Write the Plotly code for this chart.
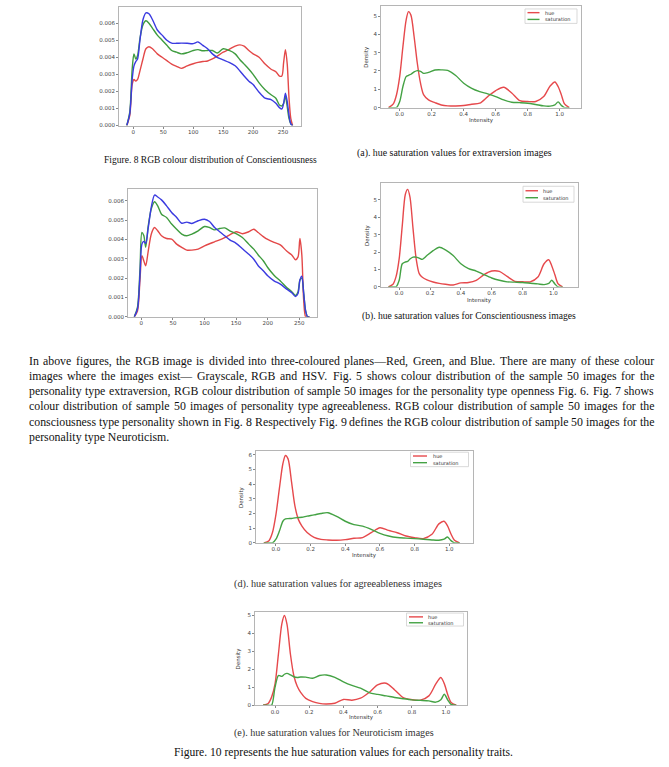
import plotly.graph_objects as go

W, H = 669, 767

# ---------------- data ----------------
rgb_x = [-11, -6, -2, 1, 4, 7, 11, 16, 21, 26, 32, 40, 48, 56, 64, 72, 80, 90, 100, 108, 116,
         124, 132, 140, 150, 160, 170, 178, 185, 193, 200, 210, 220, 230, 238, 244, 248, 251,
         254, 257, 260, 263, 266]

fig8_blue = [0, 0.0007, 0.0027, 0.0035, 0.00375, 0.0039, 0.005, 0.0062, 0.0066, 0.00655, 0.0062,
             0.0056, 0.0053, 0.005, 0.00483, 0.00482, 0.00483, 0.00482, 0.0048, 0.0049, 0.0047,
             0.0045, 0.0042, 0.004, 0.00385, 0.0037, 0.0035, 0.0032, 0.0029, 0.0026, 0.0024,
             0.00195, 0.0016, 0.00152, 0.0013, 0.00105, 0.00097, 0.0013, 0.0019, 0.0014, 0.0006,
             0.0001, 0]
fig8_green = [0, 0.0008, 0.0033, 0.0042, 0.0039, 0.0041, 0.0051, 0.0059, 0.00614, 0.006, 0.0057,
              0.0053, 0.005, 0.0047, 0.0044, 0.0043, 0.0042, 0.00427, 0.0044, 0.00445, 0.00438,
              0.0044, 0.0044, 0.00425, 0.0045, 0.0044, 0.0042, 0.00386, 0.0036, 0.0033, 0.003,
              0.0025, 0.0021, 0.0018, 0.0016, 0.0012, 0.00115, 0.0013, 0.0017, 0.0011, 0.0004,
              0.0001, 0]
fig8_red = [0, 0.0006, 0.0024, 0.0027, 0.0026, 0.0027, 0.0032, 0.0039, 0.0045, 0.00462, 0.0045,
            0.0042, 0.004, 0.0038, 0.0036, 0.00347, 0.00335, 0.0035, 0.00362, 0.0037, 0.00375,
            0.00378, 0.0039, 0.00407, 0.0043, 0.00447, 0.00465, 0.00473, 0.00465, 0.0044, 0.0042,
            0.004, 0.0036, 0.0033, 0.00315, 0.0029, 0.0029, 0.0037, 0.00445, 0.0036, 0.0016,
            0.0004, 0]

fig9_blue = [0, 0.0004, 0.0022, 0.00376, 0.0039, 0.0038, 0.0046, 0.0057, 0.0063, 0.0062, 0.00605,
             0.00574, 0.0054, 0.00514, 0.00484, 0.0049, 0.00483, 0.00497, 0.00505, 0.00493,
             0.00462, 0.0044, 0.00419, 0.00398, 0.0038, 0.00352, 0.00324, 0.00298, 0.00264,
             0.00238, 0.00212, 0.00186, 0.00169, 0.00143, 0.00125, 0.00105, 0.0012, 0.0019,
             0.0021, 0.0012, 0.0003, 0, 0]
fig9_green = [0, 0.0005, 0.0025, 0.00436, 0.0042, 0.0036, 0.0047, 0.0056, 0.00595, 0.00574,
              0.00531, 0.00514, 0.0048, 0.00453, 0.00428, 0.00419, 0.00428, 0.00445, 0.00467,
              0.00462, 0.0045, 0.00457, 0.0046, 0.00445, 0.0043, 0.0041, 0.00376, 0.0035, 0.0032,
              0.0029, 0.00255, 0.00215, 0.00185, 0.00152, 0.0013, 0.0011, 0.0013, 0.0019, 0.002,
              0.0012, 0.0003, 0, 0]
fig9_red = [0, 0.0003, 0.00195, 0.00316, 0.0029, 0.00264, 0.0034, 0.0043, 0.00462, 0.00445,
            0.00419, 0.00405, 0.00402, 0.00376, 0.00359, 0.00345, 0.00345, 0.0035, 0.00367,
            0.00378, 0.00388, 0.00398, 0.0041, 0.00424, 0.0044, 0.0043, 0.0044, 0.00453, 0.00436,
            0.00415, 0.004, 0.00385, 0.00372, 0.0034, 0.0032, 0.00295, 0.0031, 0.00405, 0.0032,
            0.0008, 0, 0, 0]

hs_x = [-0.07, -0.04, -0.02, 0.0, 0.02, 0.04, 0.055, 0.07, 0.09, 0.11, 0.13, 0.15, 0.18, 0.22,
        0.26, 0.30, 0.35, 0.40, 0.45, 0.50, 0.55, 0.60, 0.65, 0.70, 0.75, 0.80, 0.85, 0.90, 0.94,
        0.97, 0.99, 1.01, 1.03, 1.06]

a_hue = [0, 0.2, 0.7, 1.7, 3.33, 4.78, 5.24, 5.05, 3.87, 2.42, 1.33, 0.69, 0.42, 0.27, 0.14, 0.09,
         0.09, 0.11, 0.18, 0.24, 0.6, 0.93, 1.11, 0.8, 0.38, 0.33, 0.33, 0.6, 1.18, 1.4, 1.15, 0.7,
         0.2, 0]
a_sat = [0, 0, 0, 0.33, 1.15, 1.69, 1.76, 1.82, 1.95, 2.02, 1.98, 1.87, 1.92, 2.05, 2.06, 2.03,
         1.75, 1.33, 1.05, 0.87, 0.75, 0.6, 0.42, 0.29, 0.27, 0.24, 0.17, 0.09, 0.08, 0.15, 0.31,
         0.12, 0, 0]

b_hue = [0, 0.15, 0.6, 1.62, 3.52, 5.32, 5.6, 5.15, 3.33, 1.62, 0.76, 0.55, 0.4, 0.28, 0.2, 0.15,
         0.11, 0.23, 0.25, 0.38, 0.7, 0.91, 0.89, 0.6, 0.32, 0.29, 0.29, 0.57, 1.33, 1.56, 1.2,
         0.7, 0.19, 0]
b_sat = [0, 0, 0, 0.38, 1.33, 1.43, 1.46, 1.6, 1.71, 1.71, 1.65, 1.58, 1.8, 2.08, 2.28, 2.13, 1.8,
         1.33, 1.05, 0.91, 0.7, 0.51, 0.38, 0.29, 0.27, 0.25, 0.21, 0.17, 0.13, 0.2, 0.38, 0.17,
         0, 0]

d_hue = [0, 0.15, 0.7, 1.92, 3.7, 5.38, 5.94, 5.71, 4.15, 2.48, 1.58, 1.14, 0.7, 0.38, 0.24, 0.2,
         0.18, 0.22, 0.31, 0.36, 0.69, 1.03, 0.85, 0.69, 0.47, 0.36, 0.29, 0.58, 1.29, 1.47, 1.15,
         0.6, 0.18, 0]
d_sat = [0, 0, 0, 0.25, 0.8, 1.47, 1.63, 1.65, 1.66, 1.7, 1.72, 1.74, 1.82, 1.9, 2.0, 2.05, 1.8,
         1.47, 1.24, 1.14, 0.92, 0.65, 0.47, 0.36, 0.32, 0.29, 0.25, 0.2, 0.18, 0.25, 0.4, 0.15,
         0, 0]

e_hue = [0, 0.1, 0.45, 1.17, 2.84, 4.52, 4.98, 4.5, 2.85, 1.65, 1.05, 0.71, 0.38, 0.2, 0.1, 0.07,
         0.11, 0.32, 0.28, 0.39, 0.71, 1.13, 1.22, 0.85, 0.42, 0.31, 0.28, 0.52, 1.17, 1.54, 1.2,
         0.6, 0.15, 0]
e_sat = [0, 0, 0, 0.99, 1.65, 1.6, 1.72, 1.77, 1.69, 1.58, 1.54, 1.57, 1.56, 1.5, 1.65, 1.68,
         1.55, 1.3, 1.1, 0.95, 0.7, 0.6, 0.52, 0.43, 0.36, 0.3, 0.27, 0.24, 0.17, 0.3, 0.61, 0.3,
         0.05, 0]

rgb_yticks = [0, 0.001, 0.002, 0.003, 0.004, 0.005, 0.006]
rgb_xticks = [0, 50, 100, 150, 200, 250]
hs_xticks = [0.0, 0.2, 0.4, 0.6, 0.8, 1.0]
legend_names = ["hue", "saturation"]

paragraph = [
    "In above figures, the RGB image is divided into three-coloured planes\u2014Red, Green, and Blue. There are many of these colour",
    "images where the images exist\u2014 Grayscale, RGB and HSV. Fig. 5 shows colour distribution of the sample 50 images for the",
    "personality type extraversion, RGB colour distribution of sample 50 images for the personality type openness Fig. 6. Fig. 7 shows",
    "colour distribution of sample 50 images of personality type agreeableness. RGB colour distribution of sample 50 images for the",
    "consciousness type personality shown in Fig. 8 Respectively Fig. 9 defines the RGB colour distribution of sample 50 images for the",
    "personality type Neuroticism.",
]

# ---------------- helpers ----------------
TIMES = {' ': 250, '(': 333, ')': 333, ',': 250, '-': 333, '.': 250, ':': 278, '\u2014': 1000,
         'A': 722, 'B': 667, 'C': 667, 'D': 722, 'E': 611, 'F': 556, 'G': 722, 'H': 722, 'I': 333,
         'J': 389, 'K': 722, 'L': 611, 'M': 889, 'N': 722, 'O': 722, 'P': 556, 'Q': 722, 'R': 667,
         'S': 556, 'T': 611, 'U': 722, 'V': 722, 'W': 944, 'X': 722, 'Y': 722, 'Z': 611,
         'a': 444, 'b': 500, 'c': 444, 'd': 500, 'e': 444, 'f': 333, 'g': 500, 'h': 500, 'i': 278,
         'j': 278, 'k': 500, 'l': 278, 'm': 778, 'n': 500, 'o': 500, 'p': 500, 'q': 500, 'r': 333,
         's': 389, 't': 278, 'u': 500, 'v': 500, 'w': 722, 'x': 500, 'y': 500, 'z': 444}


def em(s):
    return sum(TIMES.get(c, 500) for c in s) / 1000.0


def px(x):
    return x / W


def py(y):
    return 1 - y / H


SERIF = "Liberation Serif"
SANS = "DejaVu Sans"
TICKC = "#444444"

fig = go.Figure()

# panel definitions: pixel boxes (left, top, right, bottom)
panels = {
    1: dict(box=(119, 7, 301, 126), xr=[-24, 280], yr=[0, 0.00695], kind="rgb"),
    2: dict(box=(381, 6, 581, 108), xr=[-0.117, 1.133], yr=[0, 5.55], kind="hs"),
    3: dict(box=(128, 190, 317, 318), xr=[-21, 278], yr=[0, 0.0066], kind="rgb"),
    4: dict(box=(381, 184, 578, 288), xr=[-0.118, 1.16], yr=[0, 5.95], kind="hs"),
    5: dict(box=(256, 453, 473, 545), xr=[-0.115, 1.137], yr=[0, 6.23], kind="hs"),
    6: dict(box=(255, 614, 467, 708), xr=[-0.117, 1.123], yr=[0, 5.2], kind="hs"),
}

for i, p in panels.items():
    l, t, r, b = p["box"]
    xa = "xaxis" if i == 1 else f"xaxis{i}"
    ya = "yaxis" if i == 1 else f"yaxis{i}"
    common = dict(showline=True, mirror=True, linecolor="#b5b5b5", linewidth=1, showgrid=False,
                  zeroline=False, ticks="outside", ticklen=2, tickwidth=0.8, tickcolor="#888",
                  tickfont=dict(family=SANS, size=5.5, color=TICKC))
    if p["kind"] == "rgb":
        xt = dict(tickvals=rgb_xticks)
        yt = dict(tickvals=rgb_yticks, tickformat=".3f")
    else:
        xt = dict(tickvals=hs_xticks, tickformat=".1f")
        yt = dict(dtick=1, tick0=0)
    fig.update_layout(**{
        xa: dict(domain=[px(l), px(r)], range=p["xr"], anchor=f"y{'' if i == 1 else i}",
                 ticklabelstandoff=-1, **xt, **common),
        ya: dict(domain=[py(b), py(t)], range=p["yr"], anchor=f"x{'' if i == 1 else i}",
                 ticklabelstandoff=0, **yt, **common),
    })

RED, GREEN, BLUE = "#e34848", "#3f9c3f", "#3b3be0"
HRED, HGREEN = "#e6494c", "#44a244"


def line(x, y, color, ax):
    fig.add_trace(go.Scatter(
        x=x, y=y, mode="lines", line=dict(color=color, width=1.4, shape="spline", smoothing=0.8),
        xaxis=f"x{'' if ax == 1 else ax}", yaxis=f"y{'' if ax == 1 else ax}",
        showlegend=False, hoverinfo="skip"))


line(rgb_x, fig8_red, RED, 1)
line(rgb_x, fig8_green, GREEN, 1)
line(rgb_x, fig8_blue, BLUE, 1)
line(rgb_x, fig9_red, RED, 3)
line(rgb_x, fig9_green, GREEN, 3)
line(rgb_x, fig9_blue, BLUE, 3)

for ax, hue, sat in [(2, a_hue, a_sat), (4, b_hue, b_sat), (5, d_hue, d_sat), (6, e_hue, e_sat)]:
    line(hs_x, hue, HRED, ax)
    line(hs_x, sat, HGREEN, ax)

ann = []
shapes = []


def text(s, x, y, size, family=SERIF, color="#111", xanchor="left", angle=0):
    ann.append(dict(text=s, x=px(x), y=py(y), xref="paper", yref="paper", showarrow=False,
                    xanchor=xanchor, yanchor="middle", borderpad=0, textangle=angle,
                    font=dict(family=family, size=size, color=color)))


# legend boxes drawn in page pixels: (left, top, right, bottom, row1 y, row2 y, line x0, line x1, text x)
legend_boxes = [
    (525, 9, 577, 23.5, 12.7, 19.5, 527.5, 539.5, 544),
    (523, 187, 574, 203, 191.5, 198.5, 525.5, 538, 541.5),
    (410.5, 454, 468.5, 468.5, 457.8, 464.5, 413, 427, 432),
    (406.5, 615.5, 463.5, 628.5, 619.3, 625.2, 409, 423, 426.5),
]
for (l, t, r, b, y1, y2, lx0, lx1, tx) in legend_boxes:
    shapes.append(dict(type="rect", xref="paper", yref="paper", x0=px(l), x1=px(r), y0=py(b), y1=py(t),
                       line=dict(color="#cfcfcf", width=0.8), fillcolor="white", layer="above"))
    for yy, col, nm in [(y1, HRED, legend_names[0]), (y2, HGREEN, legend_names[1])]:
        shapes.append(dict(type="line", xref="paper", yref="paper", x0=px(lx0), x1=px(lx1),
                           y0=py(yy), y1=py(yy), line=dict(color=col, width=1.4), layer="above"))
        text(nm, tx, yy, 5, SANS, "#333")

# axis labels
for ax, dx, iy in [(2, 367, 121), (4, 367, 302), (5, 241, 558), (6, 238, 720)]:
    l, t, r, b = panels[ax]["box"]
    text("Density", dx, (t + b) / 2, 5.5, SANS, "#333", "center", -90)
    text("Intensity", (l + r) / 2, iy, 5.5, SANS, "#333", "center")

# captions: (text, left px, right px, y px)
captions = [
    ("Figure. 8 RGB colour distribution of Conscientiousness", 103, 316, 160, "#111"),
    ("(a). hue saturation values for extraversion images", 356, 551, 154, "#111"),
    ("(b). hue saturation values for Conscientiousness images", 361, 575, 317, "#111"),
    ("(d). hue saturation values for agreeableness images", 233, 441, 586, "#333"),
    ("(e). hue saturation values for Neuroticism images", 233, 433, 736, "#333"),
    ("Figure. 10 represents the hue saturation values for each personality traits.", 173, 512, 755, "#111"),
]
for s, l, r, y, c in captions:
    text(s, l, y, (r - l) / em(s), SERIF, c)

# justified paragraph
P_LEFT, P_RIGHT, P_TOP, P_STEP = 28, 653, 362, 15.3
target = P_RIGHT - P_LEFT
fs = min(target / em(ln) for ln in paragraph[:-1])
for k, ln in enumerate(paragraph):
    y = P_TOP + k * P_STEP
    words = ln.split(" ")
    if k == len(paragraph) - 1:
        text(ln, P_LEFT, y, fs)
        continue
    widths = [em(w) * fs for w in words]
    gap = (target - sum(widths)) / (len(words) - 1)
    xx = P_LEFT
    for w, wd in zip(words, widths):
        text(w, xx, y, fs)
        xx += wd + gap

fig.update_layout(annotations=ann, shapes=shapes, width=W, height=H,
                  margin=dict(l=0, r=0, t=0, b=0), paper_bgcolor="white",
                  plot_bgcolor="white", showlegend=False)

fig.write_html("out.html", config={"displayModeBar": False},
               post_script="document.body.style.margin='0px';document.body.style.overflow='hidden';")
